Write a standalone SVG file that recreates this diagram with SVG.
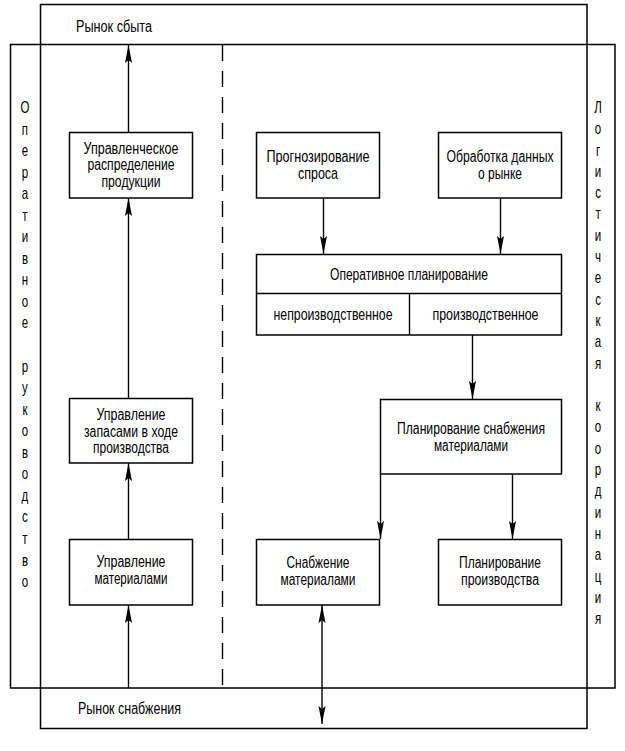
<svg xmlns="http://www.w3.org/2000/svg" width="625" height="751" viewBox="0 0 625 751">
<style>
  .frame{fill:none;stroke:#000;stroke-width:1.5}
  .box{fill:#fff;stroke:#000;stroke-width:1.5}
  .conn{fill:none;stroke:#000;stroke-width:1.4}
  .dash{fill:none;stroke:#000;stroke-width:1.4;stroke-dasharray:16 10}
  text{font-family:"Liberation Sans Narrow","Liberation Sans","Arial Narrow",Arial,sans-serif;font-size:16px;fill:#000}
  .c{text-anchor:middle}
  .v{text-anchor:middle}
</style>
<defs>
  <marker id="ah" viewBox="0 -4 19 8" refX="18" refY="0" markerWidth="19" markerHeight="8" markerUnits="userSpaceOnUse" orient="auto-start-reverse">
    <path d="M0,-3.5 L18,0 L0,3.5 L3,0 Z" fill="#000"/>
  </marker>
</defs>
<rect width="625" height="751" fill="#fff"/>

<g id="frames">
  <rect class="frame" x="40.5" y="4.5" width="546.5" height="724"/>
  <rect class="frame" x="10.5" y="44.5" width="604.5" height="643.5"/>
  <line class="dash" x1="222.5" y1="45" x2="222.5" y2="688"/>
</g>

<g id="market-sales"><text x="76" y="32" textLength="76" lengthAdjust="spacingAndGlyphs">Рынок сбыта</text></g>
<g id="market-supply"><text x="78" y="714" textLength="103" lengthAdjust="spacingAndGlyphs">Рынок снабжения</text></g>

<g id="label-left" transform="scale(0.72,1)">
  <text class="v" x="34.7" y="113">О</text>
  <text class="v" x="34.7" y="134.6">п</text>
  <text class="v" x="34.7" y="156.1">е</text>
  <text class="v" x="34.7" y="177.7">р</text>
  <text class="v" x="34.7" y="199.2">а</text>
  <text class="v" x="34.7" y="220.8">т</text>
  <text class="v" x="34.7" y="242.3">и</text>
  <text class="v" x="34.7" y="263.9">в</text>
  <text class="v" x="34.7" y="285.4">н</text>
  <text class="v" x="34.7" y="307">о</text>
  <text class="v" x="34.7" y="328.5">е</text>
  <text class="v" x="34.7" y="371.6">р</text>
  <text class="v" x="34.7" y="393.2">у</text>
  <text class="v" x="34.7" y="414.7">к</text>
  <text class="v" x="34.7" y="436.3">о</text>
  <text class="v" x="34.7" y="457.8">в</text>
  <text class="v" x="34.7" y="479.4">о</text>
  <text class="v" x="34.7" y="500.9">д</text>
  <text class="v" x="34.7" y="522.5">с</text>
  <text class="v" x="34.7" y="544">т</text>
  <text class="v" x="34.7" y="565.6">в</text>
  <text class="v" x="34.7" y="587.1">о</text>
</g>

<g id="label-right" transform="scale(0.72,1)">
  <text class="v" x="830.6" y="113">Л</text>
  <text class="v" x="830.6" y="134.3">о</text>
  <text class="v" x="830.6" y="155.6">г</text>
  <text class="v" x="830.6" y="176.9">и</text>
  <text class="v" x="830.6" y="198.2">с</text>
  <text class="v" x="830.6" y="219.5">т</text>
  <text class="v" x="830.6" y="240.8">и</text>
  <text class="v" x="830.6" y="262.1">ч</text>
  <text class="v" x="830.6" y="283.4">е</text>
  <text class="v" x="830.6" y="304.7">с</text>
  <text class="v" x="830.6" y="326">к</text>
  <text class="v" x="830.6" y="347.3">а</text>
  <text class="v" x="830.6" y="368.6">я</text>
  <text class="v" x="830.6" y="411.2">к</text>
  <text class="v" x="830.6" y="432.5">о</text>
  <text class="v" x="830.6" y="453.8">о</text>
  <text class="v" x="830.6" y="475.1">р</text>
  <text class="v" x="830.6" y="496.4">д</text>
  <text class="v" x="830.6" y="517.7">и</text>
  <text class="v" x="830.6" y="539">н</text>
  <text class="v" x="830.6" y="560.3">а</text>
  <text class="v" x="830.6" y="581.6">ц</text>
  <text class="v" x="830.6" y="602.9">и</text>
  <text class="v" x="830.6" y="624.2">я</text>
</g>

<g id="connectors">
  <path class="conn" d="M128.5,132 L128.5,45" marker-end="url(#ah)"/>
  <path class="conn" d="M128.5,398 L128.5,198" marker-end="url(#ah)"/>
  <path class="conn" d="M128.5,539 L128.5,463" marker-end="url(#ah)"/>
  <path class="conn" d="M128.5,688 L128.5,605" marker-end="url(#ah)"/>
  <path class="conn" d="M323.5,198 L323.5,254" marker-end="url(#ah)"/>
  <path class="conn" d="M500.5,198 L500.5,254" marker-end="url(#ah)"/>
  <path class="conn" d="M472.5,335 L472.5,399" marker-end="url(#ah)"/>
  <path class="conn" d="M380.5,474 L380.5,539" marker-end="url(#ah)"/>
  <path class="conn" d="M512.5,474 L512.5,539" marker-end="url(#ah)"/>
  <path class="conn" d="M322,605 L322,724" marker-start="url(#ah)" marker-end="url(#ah)"/>
</g>

<g id="node-distribution">
  <rect class="box" x="69.5" y="132.5" width="123" height="65.5"/>
  <text class="c" x="131" y="153.5" textLength="95" lengthAdjust="spacingAndGlyphs">Управленческое</text>
  <text class="c" x="131" y="170" textLength="87" lengthAdjust="spacingAndGlyphs">распределение</text>
  <text class="c" x="131" y="186.5" textLength="59" lengthAdjust="spacingAndGlyphs">продукции</text>
</g>

<g id="node-stock">
  <rect class="box" x="69.5" y="398.5" width="123" height="64.5"/>
  <text class="c" x="131" y="420" textLength="69" lengthAdjust="spacingAndGlyphs">Управление</text>
  <text class="c" x="131" y="436.5" textLength="94" lengthAdjust="spacingAndGlyphs">запасами в ходе</text>
  <text class="c" x="131" y="453" textLength="76" lengthAdjust="spacingAndGlyphs">производства</text>
</g>

<g id="node-materials-mgmt">
  <rect class="box" x="69.5" y="539.5" width="123" height="65.5"/>
  <text class="c" x="131" y="567" textLength="69" lengthAdjust="spacingAndGlyphs">Управление</text>
  <text class="c" x="131" y="584" textLength="73" lengthAdjust="spacingAndGlyphs">материалами</text>
</g>

<g id="node-forecast">
  <rect class="box" x="256.5" y="132.5" width="123" height="65.5"/>
  <text class="c" x="318" y="162" textLength="103" lengthAdjust="spacingAndGlyphs">Прогнозирование</text>
  <text class="c" x="318" y="179" textLength="40" lengthAdjust="spacingAndGlyphs">спроса</text>
</g>

<g id="node-market-data">
  <rect class="box" x="438.5" y="132.5" width="123" height="65.5"/>
  <text class="c" x="500" y="162" textLength="107" lengthAdjust="spacingAndGlyphs">Обработка данных</text>
  <text class="c" x="500" y="179" textLength="44" lengthAdjust="spacingAndGlyphs">о рынке</text>
</g>

<g id="node-operative-planning">
  <rect class="box" x="256.5" y="254.5" width="305" height="80.5"/>
  <line class="conn" x1="256.5" y1="293.5" x2="561.5" y2="293.5"/>
  <line class="conn" x1="409.5" y1="293.5" x2="409.5" y2="335"/>
  <text class="c" x="409" y="279.5" textLength="158" lengthAdjust="spacingAndGlyphs">Оперативное планирование</text>
  <text class="c" x="333" y="320" textLength="119" lengthAdjust="spacingAndGlyphs">непроизводственное</text>
  <text class="c" x="485.5" y="320" textLength="106" lengthAdjust="spacingAndGlyphs">производственное</text>
</g>

<g id="node-supply-planning">
  <rect class="box" x="380.5" y="399.5" width="181" height="74.5"/>
  <text class="c" x="471" y="433.5" textLength="148" lengthAdjust="spacingAndGlyphs">Планирование снабжения</text>
  <text class="c" x="471" y="450.5" textLength="74" lengthAdjust="spacingAndGlyphs">материалами</text>
</g>

<g id="node-supply">
  <rect class="box" x="256.5" y="539.5" width="123" height="65.5"/>
  <text class="c" x="318" y="568" textLength="63" lengthAdjust="spacingAndGlyphs">Снабжение</text>
  <text class="c" x="318" y="585" textLength="75" lengthAdjust="spacingAndGlyphs">материалами</text>
</g>

<g id="node-production-planning">
  <rect class="box" x="438.5" y="539.5" width="123" height="65.5"/>
  <text class="c" x="500" y="568" textLength="82" lengthAdjust="spacingAndGlyphs">Планирование</text>
  <text class="c" x="500" y="585" textLength="78" lengthAdjust="spacingAndGlyphs">производства</text>
</g>
</svg>
